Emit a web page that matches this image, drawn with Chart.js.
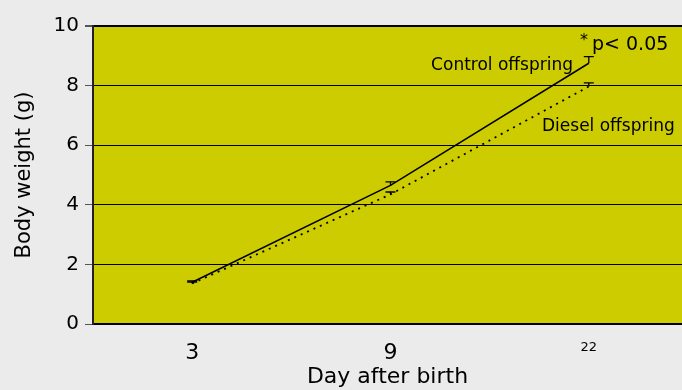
<!DOCTYPE html>
<html>
<head>
<meta charset="utf-8">
<script src="https://cdn.jsdelivr.net/npm/chart.js@4.4.1/dist/chart.umd.min.js"></script>
<style>
  html, body { margin: 0; padding: 0; background: #ebebeb; }
  #wrap { width: 682px; height: 390px; }
</style>
</head>
<body>
<div id="wrap"><canvas id="weightChart" width="682" height="390"></canvas></div>
<script>
// Data
const dayLabels = ["3", "9", "22"];
const controlMeans = [1.4, 4.65, 8.75];
const controlErr = [0.05, 0.12, 0.22];
const dieselMeans = [1.36, 4.35, 7.97];
const dieselErr = [0.05, 0.08, 0.12];
const yTicks = [0, 2, 4, 6, 8, 10];

const FONT = "'DejaVu Sans', sans-serif";

function toPoints(values) {
  return values.map((v, i) => ({ x: i, y: v }));
}

// Plot area background
const plotBg = {
  id: "plotBg",
  beforeDraw(chart) {
    const { ctx, chartArea: a } = chart;
    ctx.save();
    ctx.fillStyle = "#cccc00";
    ctx.fillRect(a.left, a.top, a.right - a.left, a.bottom - a.top);
    ctx.restore();
  },
};

// Upward error bars (T shape)
const errorBars = {
  id: "errorBars",
  afterDatasetsDraw(chart) {
    const { ctx, scales } = chart;
    const sets = [
      [controlMeans, controlErr],
      [dieselMeans, dieselErr],
    ];
    ctx.save();
    ctx.strokeStyle = "#000";
    ctx.lineWidth = 1.3;
    sets.forEach(([means, errs]) => {
      means.forEach((m, i) => {
        const x = scales.x.getPixelForValue(i);
        const y0 = scales.y.getPixelForValue(m);
        const y1 = scales.y.getPixelForValue(m + errs[i]);
        ctx.beginPath();
        ctx.moveTo(x, y0);
        ctx.lineTo(x, y1);
        ctx.moveTo(x - 5, y1);
        ctx.lineTo(x + 5, y1);
        ctx.stroke();
      });
    });
    ctx.restore();
  },
};

// Text annotations
const notes = {
  id: "notes",
  afterDraw(chart) {
    const { ctx } = chart;
    ctx.save();
    ctx.fillStyle = "#000";
    ctx.textBaseline = "middle";
    ctx.font = "17px " + FONT;
    ctx.textAlign = "right";
    ctx.fillText("Control offspring", 573, 66);
    ctx.textAlign = "left";
    ctx.fillText("Diesel offspring", 542, 127);
    ctx.font = "16px " + FONT;
    ctx.fillText("*", 580, 41);
    ctx.font = "19px " + FONT;
    ctx.fillText("p< 0.05", 592, 45);
    ctx.restore();
  },
};

const ctx = document.getElementById("weightChart");
const weightChart = new Chart(ctx, {
  type: "line",
  data: {
    datasets: [
      {
        label: "Control offspring",
        data: toPoints(controlMeans),
        borderColor: "#000",
        borderWidth: 1.5,
        pointRadius: 0,
        tension: 0,
      },
      {
        label: "Diesel offspring",
        data: toPoints(dieselMeans),
        borderColor: "#000",
        borderWidth: 1.8,
        borderDash: [2, 5],
        pointRadius: 0,
        tension: 0,
      },
    ],
  },
  options: {
    responsive: false,
    animation: false,
    layout: { padding: { top: 26, right: 0, left: 0, bottom: 0 } },
    plugins: {
      legend: { display: false },
      title: { display: false },
      tooltip: { enabled: false },
    },
    scales: {
      x: {
        type: "linear",
        min: -0.5,
        max: 2.47,
        afterBuildTicks: (scale) => {
          scale.ticks = dayLabels.map((_, i) => ({ value: i }));
        },
        afterFit: (scale) => {
          scale.height = 66;
        },
        ticks: {
          color: "#000",
          padding: 8,
          maxRotation: 0,
          callback: (v) => dayLabels[v],
          font: (c) =>
            c.tick && c.tick.value === 2
              ? { family: FONT, size: 13 }
              : { family: FONT, size: 22 },
        },
        grid: { display: false },
        border: { display: true, color: "#000", width: 2 },
        title: {
          display: true,
          text: "Day after birth",
          color: "#000",
          font: { family: FONT, size: 22 },
          padding: { top: 0, bottom: 0 },
        },
      },
      y: {
        min: 0,
        max: 10,
        afterBuildTicks: (scale) => {
          scale.ticks = yTicks.map((v) => ({ value: v }));
        },
        afterFit: (scale) => {
          scale.width = 93;
        },
        ticks: {
          color: "#000",
          padding: 6,
          font: { family: FONT, size: 20 },
        },
        grid: {
          color: "#000",
          lineWidth: (c) => (c.tick && c.tick.value === 10 ? 2 : 1),
          tickColor: "#555",
          tickLength: 8,
        },
        border: { display: true, color: "#222", width: 2 },
        title: {
          display: true,
          text: "Body weight (g)",
          color: "#000",
          font: { family: FONT, size: 21 },
          padding: { top: 12, bottom: 4 },
        },
      },
    },
  },
  plugins: [plotBg, errorBars, notes],
});
</script>
</body>
</html>
